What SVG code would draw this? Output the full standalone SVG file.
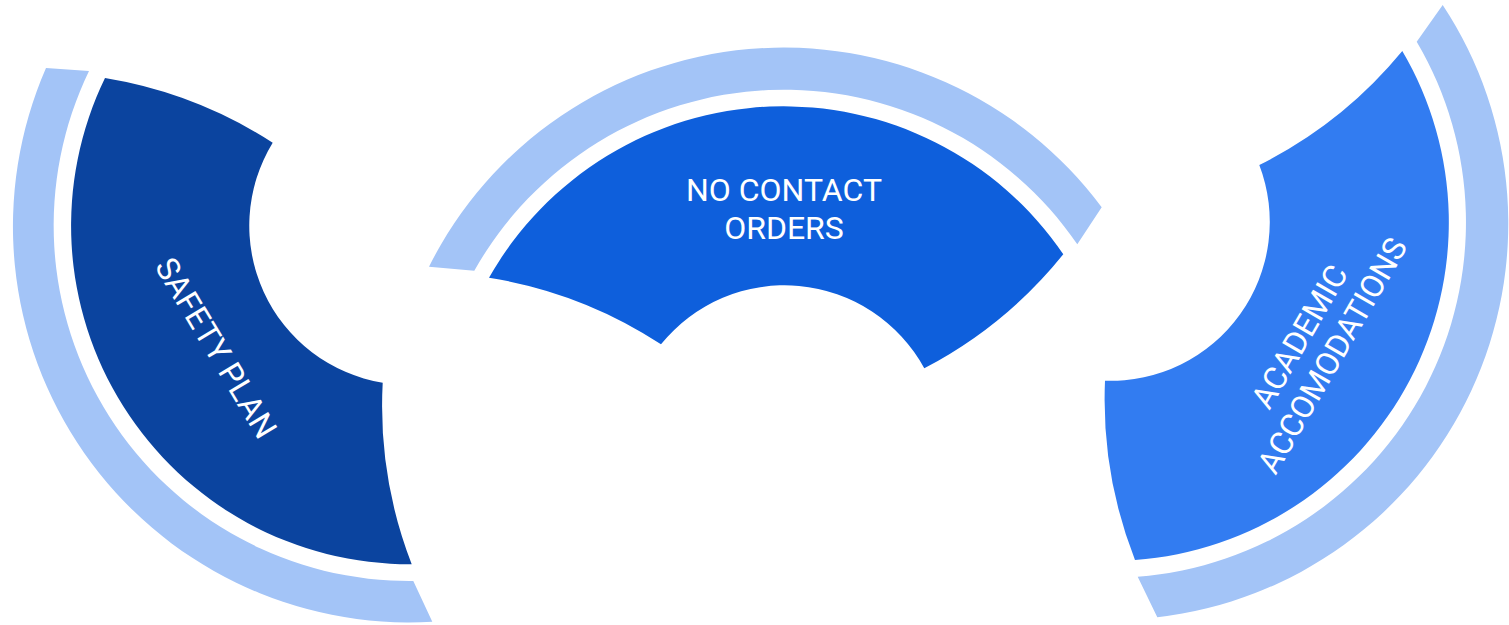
<svg xmlns="http://www.w3.org/2000/svg" width="1509" height="625" viewBox="0 0 1509 625">
<style>
.band{fill:#A3C4F7}
.lbl{fill:#FFFFFF;font-family:Roboto,"Liberation Sans",sans-serif;font-size:32px;text-anchor:middle}
</style>
<rect width="1509" height="625" fill="#FFFFFF"/>
<g id="node-safety-plan">
<path class="band" d="M46,68 A396 396 0 0 0 432.3,621.7 L413.3,581 A355.5 355.5 0 0 1 89,71 Z"/>
<path fill="#0B449F" d="M105,78 A338.6 338.6 0 0 0 411.7,564.3 A440 440 0 0 1 382.7,382.7 A159 159 0 0 1 272.7,142.7 A440 440 0 0 0 105,78 Z"/>
<text class="lbl" transform="translate(216,348) rotate(59)" y="11">SAFETY PLAN</text>
</g>
<g id="node-no-contact-orders">
<path class="band" d="M429,266.7 A396.5 396.5 0 0 1 1101.7,207.3 L1077.3,244.3 A355.5 355.5 0 0 0 474.3,270.7 Z"/>
<path fill="#0E5FDC" d="M489,277.7 A338.6 338.6 0 0 1 1063.3,254.3 A440 440 0 0 1 924.3,368.3 A159 159 0 0 0 661,344.3 A440 440 0 0 0 489,277.7 Z"/>
<text class="lbl" x="784" y="201">NO CONTACT</text>
<text class="lbl" x="784" y="239">ORDERS</text>
</g>
<g id="node-academic-accomodations">
<path class="band" d="M1442.7,5 A396.5 396.5 0 0 1 1157.3,617.3 L1137.7,576.7 A355.5 355.5 0 0 0 1416.7,41.7 Z"/>
<path fill="#327CF1" d="M1402.3,51 A338.6 338.6 0 0 1 1135,560 A440 440 0 0 1 1105,380.7 A159 159 0 0 0 1259.3,165 A440 440 0 0 0 1402.3,51 Z"/>
<text class="lbl" transform="translate(1316,346) rotate(-60)"><tspan x="0" y="-8">ACADEMIC</tspan><tspan x="0" y="30">ACCOMODATIONS</tspan></text>
</g>
<g id="connectors"></g>
</svg>
